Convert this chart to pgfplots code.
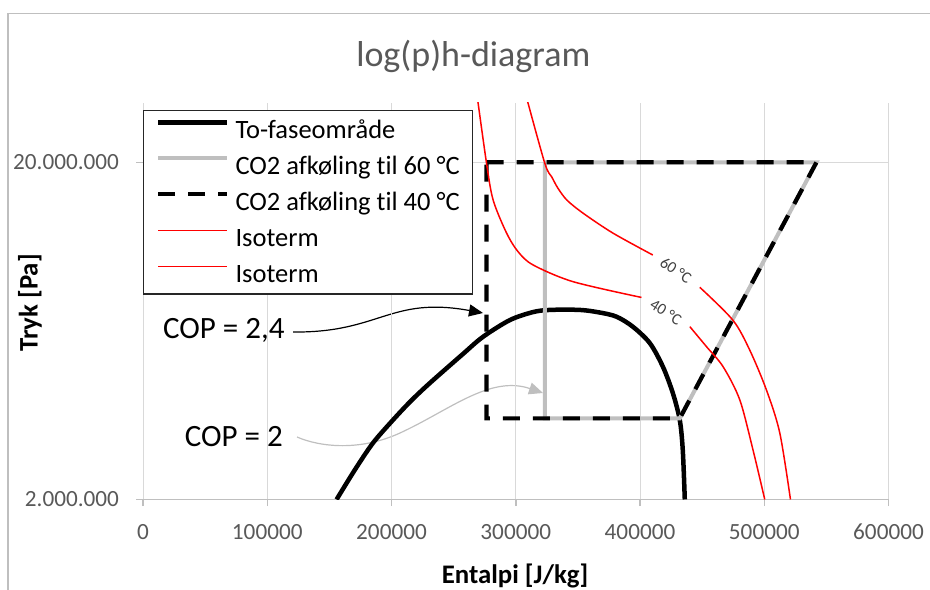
\documentclass[border=0pt]{standalone}
\usepackage{fontspec}
\setmainfont{Carlito}[Ligatures=NoCommon]
\usepackage{pgfplots}
\pgfplotsset{compat=1.18}
\usetikzlibrary{arrows.meta}

\definecolor{txtgray}{HTML}{595959}
\definecolor{gridgray}{HTML}{D9D9D9}
\definecolor{axgray}{HTML}{BFBFBF}
\definecolor{cyclegray}{HTML}{BFBFBF}
\definecolor{isored}{HTML}{FF0000}

\begin{document}
\begin{tikzpicture}
\useasboundingbox (0,0) rectangle (465pt,294.5pt);

% texts and arrows, placed in pixel units of the reference (y down)
\begin{scope}[x=0.5pt,y=-0.5pt,yshift=294.5pt]
  \draw[axgray, line width=0.75pt] (8,595) -- (8,13.3) -- (935,13.3);
  \node[anchor=base, text=txtgray, font=\fontsize{18}{20}\selectfont] at (473.3,66.7) {log(p)h-diagram};
  \node[rotate=90, font=\bfseries\fontsize{13.4}{15}\selectfont] at (30,303) {Tryk [Pa]};
  \node[anchor=base, font=\bfseries\fontsize{13.4}{15}\selectfont] at (515,583) {Entalpi [J/kg]};
  \node[anchor=base east, inner sep=0pt, font=\fontsize{15.5}{17}\selectfont] at (285,338.3) {COP = 2,4};
  \node[anchor=base east, inner sep=0pt, font=\fontsize{15.5}{17}\selectfont] at (283.3,446.7) {COP = 2};
  \draw[black, line width=0.6pt, -{Triangle[length=7pt,width=6pt]}]
    (293,332) .. controls (380,333) and (390,296) .. (483,313);
  \draw[cyclegray, line width=0.6pt, -{Triangle[length=7pt,width=6pt]}]
    (297,437) .. controls (320,447) and (360,451.4) .. (400,433)
    .. controls (450,410) and (490,375) .. (543,393);
  \node[rotate=-34, inner sep=0pt, text=black!75, font=\fontsize{8}{9}\selectfont] at (676,270) {60 °C};
  \node[rotate=-32, inner sep=0pt, text=black!75, font=\fontsize{8}{9}\selectfont] at (666,312) {40 °C};
\end{scope}

\begin{axis}[
    at={(71.5pt,44.75pt)},
    anchor=south west,
    scale only axis,
    width=372.75pt,
    height=198.25pt,
    xmin=0, xmax=600000,
    ymode=log,
    ymin=2e6, ymax=3e7,
    xtick={0,100000,200000,300000,400000,500000,600000},
    xticklabels={0,100000,200000,300000,400000,500000,600000},
    scaled x ticks=false,
    ytick={2e6,2e7},
    yticklabels={2.000.000,20.000.000},
    yminorticks=false,
    grid=major,
    major grid style={gridgray, line width=0.5pt},
    axis x line*=bottom,
    axis y line*=left,
    x axis line style={axgray, line width=0.75pt, -},
    y axis line style={draw=none, -},
    tick align=outside,
    major tick length=3.4pt,
    tick style={axgray, line width=0.75pt},
    ticklabel style={font=\fontsize{11.6}{13}\selectfont, text=txtgray},
    xticklabel style={anchor=base, yshift=-16.6pt},
    yticklabel style={anchor=east, inner sep=0pt, xshift=-8.4pt},
    legend cell align=left,
    legend style={
        at={(0,0.982)}, anchor=north west,
        draw=black!85, line width=0.6pt,
        font=\fontsize{13.25}{15}\selectfont,
        inner xsep=6.2pt, inner ysep=0.8pt,
        column sep=3pt, row sep=0pt,
        nodes={inner xsep=0pt, inner ysep=0pt, text height=13.27pt, text depth=4.73pt},
    },
    legend image code/.code={\draw[#1] (0pt,4pt) -- (34.5pt,4pt);},
]
% two-phase region
\addplot[black, line width=2.25pt, smooth, line join=round] coordinates {
    (155800,2.0e6) (170550,2.45e6) (185040,2.94e6) (201130,3.44e6)
    (215610,3.92e6) (230890,4.43e6) (257440,5.40e6) (273530,6.07e6)
    (295250,6.81e6) (313760,7.19e6) (327430,7.30e6) (351570,7.30e6)
    (367660,7.17e6) (381090,6.97e6) (394200,6.51e6) (407880,5.82e6)
    (418340,4.96e6) (426390,4.14e6) (432020,3.44e6) (434430,2.80e6)
    (436040,2.0e6)
};
\addlegendentry{To-faseområde}
% cycle, cooled to 60 C
\addplot[cyclegray, line width=2pt, line join=miter] coordinates {
    (323400,2e7) (323400,3.48e6) (432000,3.48e6) (542000,2e7) (323400,2e7)
};
\addlegendentry{CO2 afkøling til 60 °C}
% cycle, cooled to 40 C
\addplot[black, line width=2.1pt, dash pattern=on 8.5pt off 6.5pt] coordinates {
    (276500,2e7) (542000,2e7) (432000,3.48e6) (276500,3.48e6) (276500,2e7)
};
\addlegendentry{CO2 afkøling til 40 °C}
\addlegendimage{color=isored, line width=0.75pt}
\addlegendentry{Isoterm}
\addlegendimage{color=isored, line width=0.75pt}
\addlegendentry{Isoterm}
% isotherm 60 C, upper and lower part (gap for the label)
\addplot[isored, line width=0.75pt, smooth, forget plot] coordinates {
    (308100,3.17e7) (323400,1.986e7) (329040,1.809e7) (333870,1.678e7)
    (341110,1.546e7) (353980,1.415e7) (378120,1.234e7) (410300,1.062e7)
};
\addplot[isored, line width=0.75pt, smooth, forget plot] coordinates {
    (448100,8.52e6) (474700,6.81e6) (488300,5.55e6) (501800,4.22e6)
    (512500,3.15e6) (521100,2.0e6)
};
% isotherm 40 C, upper and lower part
\addplot[isored, line width=0.75pt, smooth, forget plot] coordinates {
    (268800,3.17e7) (276500,1.986e7) (281800,1.546e7) (292600,1.234e7)
    (301900,1.086e7) (314000,9.92e6) (346200,8.85e6) (401200,7.95e6)
};
\addplot[isored, line width=0.75pt, smooth, forget plot] coordinates {
    (440100,6.51e6) (453500,5.68e6) (466900,4.95e6) (480300,3.95e6)
    (491000,2.80e6) (500400,2.0e6)
};
\end{axis}
\end{tikzpicture}
\end{document}
